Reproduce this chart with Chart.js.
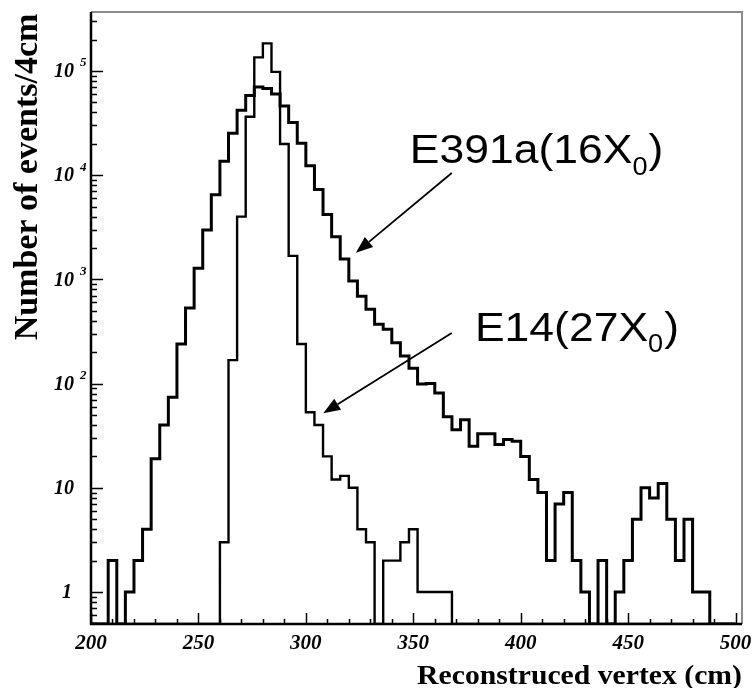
<!DOCTYPE html>
<html>
<head>
<meta charset="utf-8">
<script src="https://cdn.jsdelivr.net/npm/chart.js@4.4.0/dist/chart.umd.min.js"></script>
<style>
  html, body { margin: 0; padding: 0; background: #fff; }
</style>
</head>
<body>
<canvas id="chart" width="752" height="688"></canvas>
<script>
// Histogram binning (cm)
const binStart = 200;
const binWidth = 4;

// Events per 4 cm bin (75 bins, 200-500 cm)
const e391a = [
  0, 0, 2, 0, 1, 2, 4, 19, 40, 74,
  240, 530, 1280, 2980, 6500, 13600, 25200, 42000, 58000, 70000,
  68000, 60000, 46000, 32000, 20200, 12300, 7300, 4200, 2570, 1570,
  965, 690, 516, 371, 332, 247, 184, 140, 99, 100,
  81, 48, 36, 45, 25, 33, 33, 26, 29, 28,
  20, 12, 9, 2, 7, 9, 2, 1, 0, 2,
  0, 1, 2, 5, 10, 8, 11, 5, 2, 5,
  1, 1, 0, 0, 0
];
const e14 = [
  0, 0, 0, 0, 0, 0, 0, 0, 0, 0,
  0, 0, 0, 0, 0, 3, 168, 4000, 36400, 135000,
  184000, 98000, 19900, 1680, 240, 53, 40, 20, 12, 13,
  10, 4, 3, 0, 2, 2, 3, 4, 1, 1,
  1, 1, 0, 0, 0, 0, 0, 0, 0, 0,
  0, 0, 0, 0, 0, 0, 0, 0, 0, 0,
  0, 0, 0, 0, 0, 0, 0, 0, 0, 0,
  0, 0, 0, 0, 0
];

// Axis ticks
const xTickLabels = [200, 250, 300, 350, 400, 450, 500];
const yDecades = [1, 10, 100, 1000, 10000, 100000];
const yDecadeExp = ["", "", "2", "3", "4", "5"];

const yMin = 0.493;
const yMax = 3.68e5;
const xMax = 503;

const serif = "'Liberation Serif', 'Times New Roman', serif";
const sans = "'Liberation Sans', Arial, sans-serif";

// step outline: one point per bin left edge, then the closing edge
function histPoints(values) {
  const pts = values.map((v, i) => ({ x: binStart + i * binWidth, y: v > 0 ? v : yMin }));
  pts.push({ x: binStart + values.length * binWidth, y: yMin });
  return pts;
}

// Annotations, in data coordinates (cm, events)
const notes = [
  { main: "E391a(16X", sub: "0", x: 348.4, y: 13100, subDy: 12,
    arrowFrom: [367.9, 10500], arrowTo: [323.3, 1800] },
  { main: "E14(27X", sub: "0", x: 378.7, y: 258, subDy: 11,
    arrowFrom: [367.9, 306], arrowTo: [308.1, 52] }
];

function drawArrow(ctx, x1, y1, x2, y2) {
  const ang = Math.atan2(y2 - y1, x2 - x1);
  const len = 17, hw = 6.5;
  const bx = x2 - len * Math.cos(ang), by = y2 - len * Math.sin(ang);
  ctx.beginPath();
  ctx.moveTo(x1, y1);
  ctx.lineTo(bx, by);
  ctx.lineWidth = 1.8;
  ctx.stroke();
  ctx.beginPath();
  ctx.moveTo(x2, y2);
  ctx.lineTo(bx + hw * Math.sin(ang), by - hw * Math.cos(ang));
  ctx.lineTo(bx - hw * Math.sin(ang), by + hw * Math.cos(ang));
  ctx.closePath();
  ctx.fill();
}

const framePlugin = {
  id: 'frame',
  afterDatasetsDraw(chart) {
    const { ctx, chartArea: a, scales: { x, y } } = chart;
    ctx.save();
    ctx.strokeStyle = '#000';
    ctx.lineWidth = 1.5;
    // y ticks, pointing into the plot
    ctx.beginPath();
    for (let e = -1; e <= 5; e++) {
      for (let k = 1; k <= 9; k++) {
        const v = k * Math.pow(10, e);
        if (v < yMin || v > yMax) continue;
        const py = Math.round(y.getPixelForValue(v)) + 0.5;
        const len = k === 1 ? 12 : 6;
        ctx.moveTo(a.left, py);
        ctx.lineTo(a.left + len, py);
      }
    }
    // x ticks, pointing up
    for (let cm = binStart; cm <= 500; cm += 10) {
      const px = Math.round(x.getPixelForValue(cm)) + 0.5;
      const len = cm % 50 === 0 ? 11 : 5;
      ctx.moveTo(px, a.bottom);
      ctx.lineTo(px, a.bottom - len);
    }
    ctx.stroke();

    // frame: grey top/right, black axes
    ctx.strokeStyle = '#8c8c8c';
    ctx.lineWidth = 2;
    ctx.beginPath();
    ctx.moveTo(a.left, a.top);
    ctx.lineTo(a.right, a.top);
    ctx.lineTo(a.right, a.bottom);
    ctx.stroke();
    ctx.strokeStyle = '#000';
    ctx.lineWidth = 2.5;
    ctx.beginPath();
    ctx.moveTo(a.left, a.top);
    ctx.lineTo(a.left, a.bottom);
    ctx.lineTo(a.right, a.bottom);
    ctx.stroke();

    ctx.fillStyle = '#000';
    // x tick labels
    ctx.font = 'italic bold 21px ' + serif;
    ctx.textAlign = 'center';
    ctx.textBaseline = 'middle';
    xTickLabels.forEach(v => {
      ctx.fillText(String(v), x.getPixelForValue(v), a.bottom + 20);
    });

    // y tick labels with superscripts
    yDecades.forEach((v, i) => {
      const py = y.getPixelForValue(v);
      ctx.font = 'italic bold 20px ' + serif;
      ctx.textAlign = 'right';
      const label = v === 1 ? "1" : "10";
      ctx.fillText(label, v === 1 ? 72 : 74, py + 1);
      if (yDecadeExp[i]) {
        ctx.font = 'italic bold 13px ' + serif;
        ctx.textAlign = 'left';
        ctx.fillText(yDecadeExp[i], 80, py - 8);
      }
    });

    // axis titles
    ctx.font = 'bold 34px ' + serif;
    ctx.textAlign = 'center';
    ctx.textBaseline = 'alphabetic';
    ctx.save();
    ctx.translate(37, 177);
    ctx.rotate(-Math.PI / 2);
    ctx.fillText('Number of events/4cm', 0, 0);
    ctx.restore();

    ctx.font = 'bold 27px ' + serif;
    ctx.textAlign = 'right';
    ctx.save();
    ctx.translate(742, 684);
    ctx.scale(1.1, 1);
    ctx.fillText('Reconstruced vertex (cm)', 0, 0);
    ctx.restore();

    // annotations and arrows
    notes.forEach(n => {
      const tx = x.getPixelForValue(n.x), ty = y.getPixelForValue(n.y);
      ctx.save();
      ctx.translate(tx, ty);
      ctx.scale(1.085, 1);
      ctx.textAlign = 'left';
      ctx.font = '41px ' + sans;
      ctx.fillText(n.main, 0, 0);
      let w = ctx.measureText(n.main).width;
      ctx.font = '25px ' + sans;
      ctx.fillText(n.sub, w, n.subDy);
      w += ctx.measureText(n.sub).width + 1;
      ctx.font = '41px ' + sans;
      ctx.fillText(')', w, 0);
      ctx.restore();
      drawArrow(ctx,
        x.getPixelForValue(n.arrowFrom[0]), y.getPixelForValue(n.arrowFrom[1]),
        x.getPixelForValue(n.arrowTo[0]), y.getPixelForValue(n.arrowTo[1]));
    });
    ctx.restore();
  }
};

new Chart(document.getElementById('chart'), {
  type: 'line',
  data: {
    datasets: [
      { label: 'E391a(16X0)', data: histPoints(e391a), borderColor: '#000', borderWidth: 3,
        stepped: true, pointRadius: 0, fill: false },
      { label: 'E14(27X0)', data: histPoints(e14), borderColor: '#000', borderWidth: 2.4,
        stepped: true, pointRadius: 0, fill: false }
    ]
  },
  options: {
    responsive: false,
    animation: false,
    devicePixelRatio: 1,
    layout: { padding: { top: 12, right: 10, left: 0, bottom: 0 } },
    plugins: { legend: { display: false }, tooltip: { enabled: false } },
    scales: {
      x: {
        type: 'linear', min: binStart, max: xMax,
        grid: { display: false, drawTicks: false },
        border: { display: false },
        ticks: { display: false },
        afterFit: s => { s.height = 64; }
      },
      y: {
        type: 'logarithmic', min: yMin, max: yMax,
        grid: { display: false, drawTicks: false },
        border: { display: false },
        ticks: { display: false },
        afterFit: s => { s.width = 91; }
      }
    }
  },
  plugins: [framePlugin]
});
</script>
</body>
</html>
